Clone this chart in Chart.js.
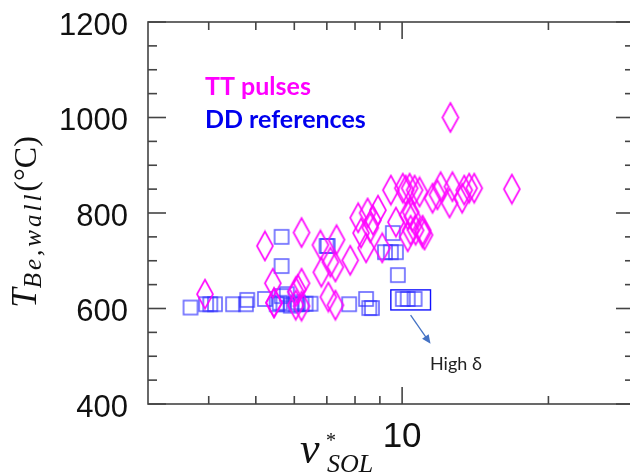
<!DOCTYPE html>
<html>
<head>
<meta charset="utf-8">
<script src="https://cdn.jsdelivr.net/npm/chart.js@4"></script>
<style>
  html, body { margin: 0; padding: 0; background: #fff; overflow: hidden; }
  canvas { display: block; }
</style>
</head>
<body>
<canvas id="grafico" width="645" height="473" style="width:645px;height:473px"></canvas>
<script>
// Datos
// TT pulses: [nu*_SOL, T_Be,wall]
const ttNu = [3.93, 5.22, 6.21, 5.42, 5.45, 6.04, 6.04, 6.21, 6.79, 7.33, 6.82, 7.29, 7.82, 7.05, 7.29,
  8.12, 8.49, 8.71, 8.92, 9.48, 9.71, 10.03, 10.17, 10.36, 10.61, 10.86, 10.27, 10.50, 10.66, 11.12,
  11.55, 11.82, 12.00, 12.52, 12.69, 13.29, 13.42, 13.74, 14.07, 16.82, 12.57, 8.23, 8.60, 10.41,
  10.41, 11.02, 8.43, 9.10, 10.27, 11.02, 7.12, 6.21, 5.45, 6.10];
const ttTemp = [630, 731, 759, 653, 612, 635, 607, 653, 733, 744, 676, 687, 701, 624, 607,
  790, 800, 785, 806, 848, 781, 852, 848, 852, 848, 844, 796, 792, 764, 754,
  831, 838, 855, 821, 855, 831, 848, 852, 852, 850, 1000, 758, 769, 802,
  764, 764, 727, 727, 750, 758, 697, 605, 612, 640];

// DD references
const ddNu = [3.67, 3.95, 4.03, 4.12, 4.49, 4.77, 4.80, 5.22, 5.65, 5.65, 5.65, 5.52, 5.70, 5.79,
  6.04, 6.21, 6.33, 6.48, 6.99, 7.03, 7.78, 8.43, 8.56, 8.67, 9.57, 9.22, 9.48, 9.71, 9.80,
  10.03, 10.27, 10.61, 5.60, 5.90, 6.10];
const ddTemp = [602, 609, 609, 609, 609, 609, 618, 620, 750, 689, 626, 609, 609, 630,
  609, 609, 610, 610, 731, 731, 609, 620, 601, 601, 758, 718, 718, 718, 670,
  620, 620, 620, 612, 606, 613];

// Ejes
const yTicksMayores = [400, 600, 800, 1000, 1200];
const xTicksMenores = [4, 5, 6, 7, 8, 9, 20, 30];
const xTicksEtiqueta = [10];

// Marcadores a mano (rombo alto y cuadrado)
function crearRombo() {
  const c = document.createElement('canvas');
  c.width = 20; c.height = 33;
  const g = c.getContext('2d');
  g.strokeStyle = 'rgba(255, 0, 255, 0.95)';
  g.lineWidth = 1.7;
  g.beginPath();
  g.moveTo(10, 2); g.lineTo(18, 16.5); g.lineTo(10, 31); g.lineTo(2, 16.5);
  g.closePath();
  g.stroke();
  return c;
}
function crearCuadrado() {
  const c = document.createElement('canvas');
  c.width = 18; c.height = 18;
  const g = c.getContext('2d');
  g.strokeStyle = 'rgba(50, 50, 255, 0.75)';
  g.lineWidth = 1.6;
  g.strokeRect(2, 2, 14, 14);
  return c;
}

// Anotaciones en unidades de datos
const caja = { x0: 9.48, x1: 11.44, y0: 597, y1: 639 };
const flecha = { x0: 10.41, y0: 586, x1: 11.44, y1: 526 };

const decoracion = {
  id: 'decoracion',
  afterDraw(chart) {
    const { ctx, chartArea: a, scales: { x, y } } = chart;
    ctx.save();
    const linea = (x1, y1, x2, y2) => { ctx.beginPath(); ctx.moveTo(x1, y1); ctx.lineTo(x2, y2); ctx.stroke(); };

    // marco y ticks hacia dentro
    ctx.strokeStyle = '#444';
    ctx.lineWidth = 1.6;
    ctx.strokeRect(a.left, a.top, a.right - a.left, a.bottom - a.top);
    for (let v = 400; v <= 1200; v += 50) {
      const py = y.getPixelForValue(v);
      const len = yTicksMayores.includes(v) ? 18 : 9;
      linea(a.left, py, a.left + len, py);
      linea(a.right, py, a.right - len, py);
    }
    xTicksMenores.concat(xTicksEtiqueta).forEach(v => {
      const px = x.getPixelForValue(v);
      const len = xTicksEtiqueta.includes(v) ? 17 : 8;
      linea(px, a.bottom, px, a.bottom - len);
      linea(px, a.top, px, a.top + len);
    });

    // leyenda
    ctx.font = 'bold 25px Lato';
    ctx.textBaseline = 'alphabetic';
    ctx.fillStyle = '#ff00ff';
    ctx.fillText('TT pulses', x.getPixelForValue(3.93), 95);
    ctx.fillStyle = '#0000ee';
    ctx.fillText('DD references', x.getPixelForValue(3.93), 128);

    // caja High delta
    ctx.strokeStyle = '#1010ff';
    ctx.lineWidth = 1.4;
    const bx0 = x.getPixelForValue(caja.x0), bx1 = x.getPixelForValue(caja.x1);
    const by0 = y.getPixelForValue(caja.y1), by1 = y.getPixelForValue(caja.y0);
    ctx.strokeRect(bx0, by0, bx1 - bx0, by1 - by0);

    // flecha
    const fx0 = x.getPixelForValue(flecha.x0), fy0 = y.getPixelForValue(flecha.y0);
    const fx1 = x.getPixelForValue(flecha.x1), fy1 = y.getPixelForValue(flecha.y1);
    ctx.strokeStyle = '#4472c4';
    ctx.fillStyle = '#4472c4';
    ctx.lineWidth = 1.3;
    const ang = Math.atan2(fy1 - fy0, fx1 - fx0);
    linea(fx0, fy0, fx1 - 6 * Math.cos(ang), fy1 - 6 * Math.sin(ang));
    ctx.beginPath();
    ctx.moveTo(fx1, fy1);
    ctx.lineTo(fx1 - 9 * Math.cos(ang) + 4 * Math.sin(ang), fy1 - 9 * Math.sin(ang) - 4 * Math.cos(ang));
    ctx.lineTo(fx1 - 9 * Math.cos(ang) - 4 * Math.sin(ang), fy1 - 9 * Math.sin(ang) + 4 * Math.cos(ang));
    ctx.closePath();
    ctx.fill();

    ctx.fillStyle = '#222';
    ctx.font = '18px Lato';
    ctx.fillText('High δ', 430, 370);

    // titulo eje Y: T_{Be,wall}(°C)
    ctx.save();
    ctx.translate(36, 222);
    ctx.rotate(-Math.PI / 2);
    const partes = [
      { t: 'T', f: 'italic 35px "Liberation Serif"', dy: 0, ls: '0px' },
      { t: 'Be,wall', f: 'italic 25px "Liberation Serif"', dy: 5, ls: '3px' },
      { t: '(°C)', f: '32px "Liberation Serif"', dy: 0, ls: '0px' }
    ];
    let total = 0;
    partes.forEach(p => { ctx.font = p.f; ctx.letterSpacing = p.ls; p.w = ctx.measureText(p.t).width; total += p.w; });
    let cx = -total / 2;
    ctx.fillStyle = '#111';
    partes.forEach(p => { ctx.font = p.f; ctx.letterSpacing = p.ls; ctx.fillText(p.t, cx, p.dy); cx += p.w; });
    ctx.restore();
    ctx.letterSpacing = '0px';

    // titulo eje X: nu*_SOL
    ctx.fillStyle = '#111';
    ctx.font = 'italic 44px "Liberation Serif"';
    ctx.fillText('ν', 300, 463);
    ctx.font = '20px "Liberation Serif"';
    ctx.fillText('*', 326, 447);
    ctx.font = 'italic 26px "Liberation Serif"';
    ctx.fillText('SOL', 327, 472);

    ctx.restore();
  }
};

const ctx = document.getElementById('grafico').getContext('2d');
new Chart(ctx, {
  type: 'scatter',
  data: {
    datasets: [
      {
        label: 'TT pulses',
        data: ttNu.map((v, i) => ({ x: v, y: ttTemp[i] })),
        pointStyle: crearRombo(),
        pointRadius: 10
      },
      {
        label: 'DD references',
        data: ddNu.map((v, i) => ({ x: v, y: ddTemp[i] })),
        pointStyle: crearCuadrado(),
        pointRadius: 9
      }
    ]
  },
  options: {
    responsive: false,
    animation: false,
    layout: { padding: { top: 22, right: 7, left: 0, bottom: 0 } },
    plugins: { legend: { display: false }, tooltip: { enabled: false } },
    scales: {
      x: {
        type: 'logarithmic',
        min: 3,
        max: 30,
        grid: { display: false, drawTicks: false },
        border: { display: false },
        afterFit: s => { s.height = 69; s.paddingLeft = 0; s.paddingRight = 0; },
        ticks: {
          autoSkip: false,
          maxRotation: 0,
          padding: 12,
          color: '#111',
          font: { family: 'Liberation Sans', size: 35 },
          callback: v => xTicksEtiqueta.includes(v) ? String(v) : ''
        }
      },
      y: {
        min: 400,
        max: 1200,
        grid: { display: false, drawTicks: false },
        border: { display: false },
        afterFit: s => { s.width = 148; s.paddingTop = 0; s.paddingBottom = 0; },
        ticks: {
          stepSize: 200,
          padding: 20,
          labelOffset: 4,
          color: '#111',
          font: { family: 'Liberation Sans', size: 31 },
          callback: v => yTicksMayores.includes(v) ? String(v) : ''
        }
      }
    }
  },
  plugins: [decoracion]
});
</script>
</body>
</html>
